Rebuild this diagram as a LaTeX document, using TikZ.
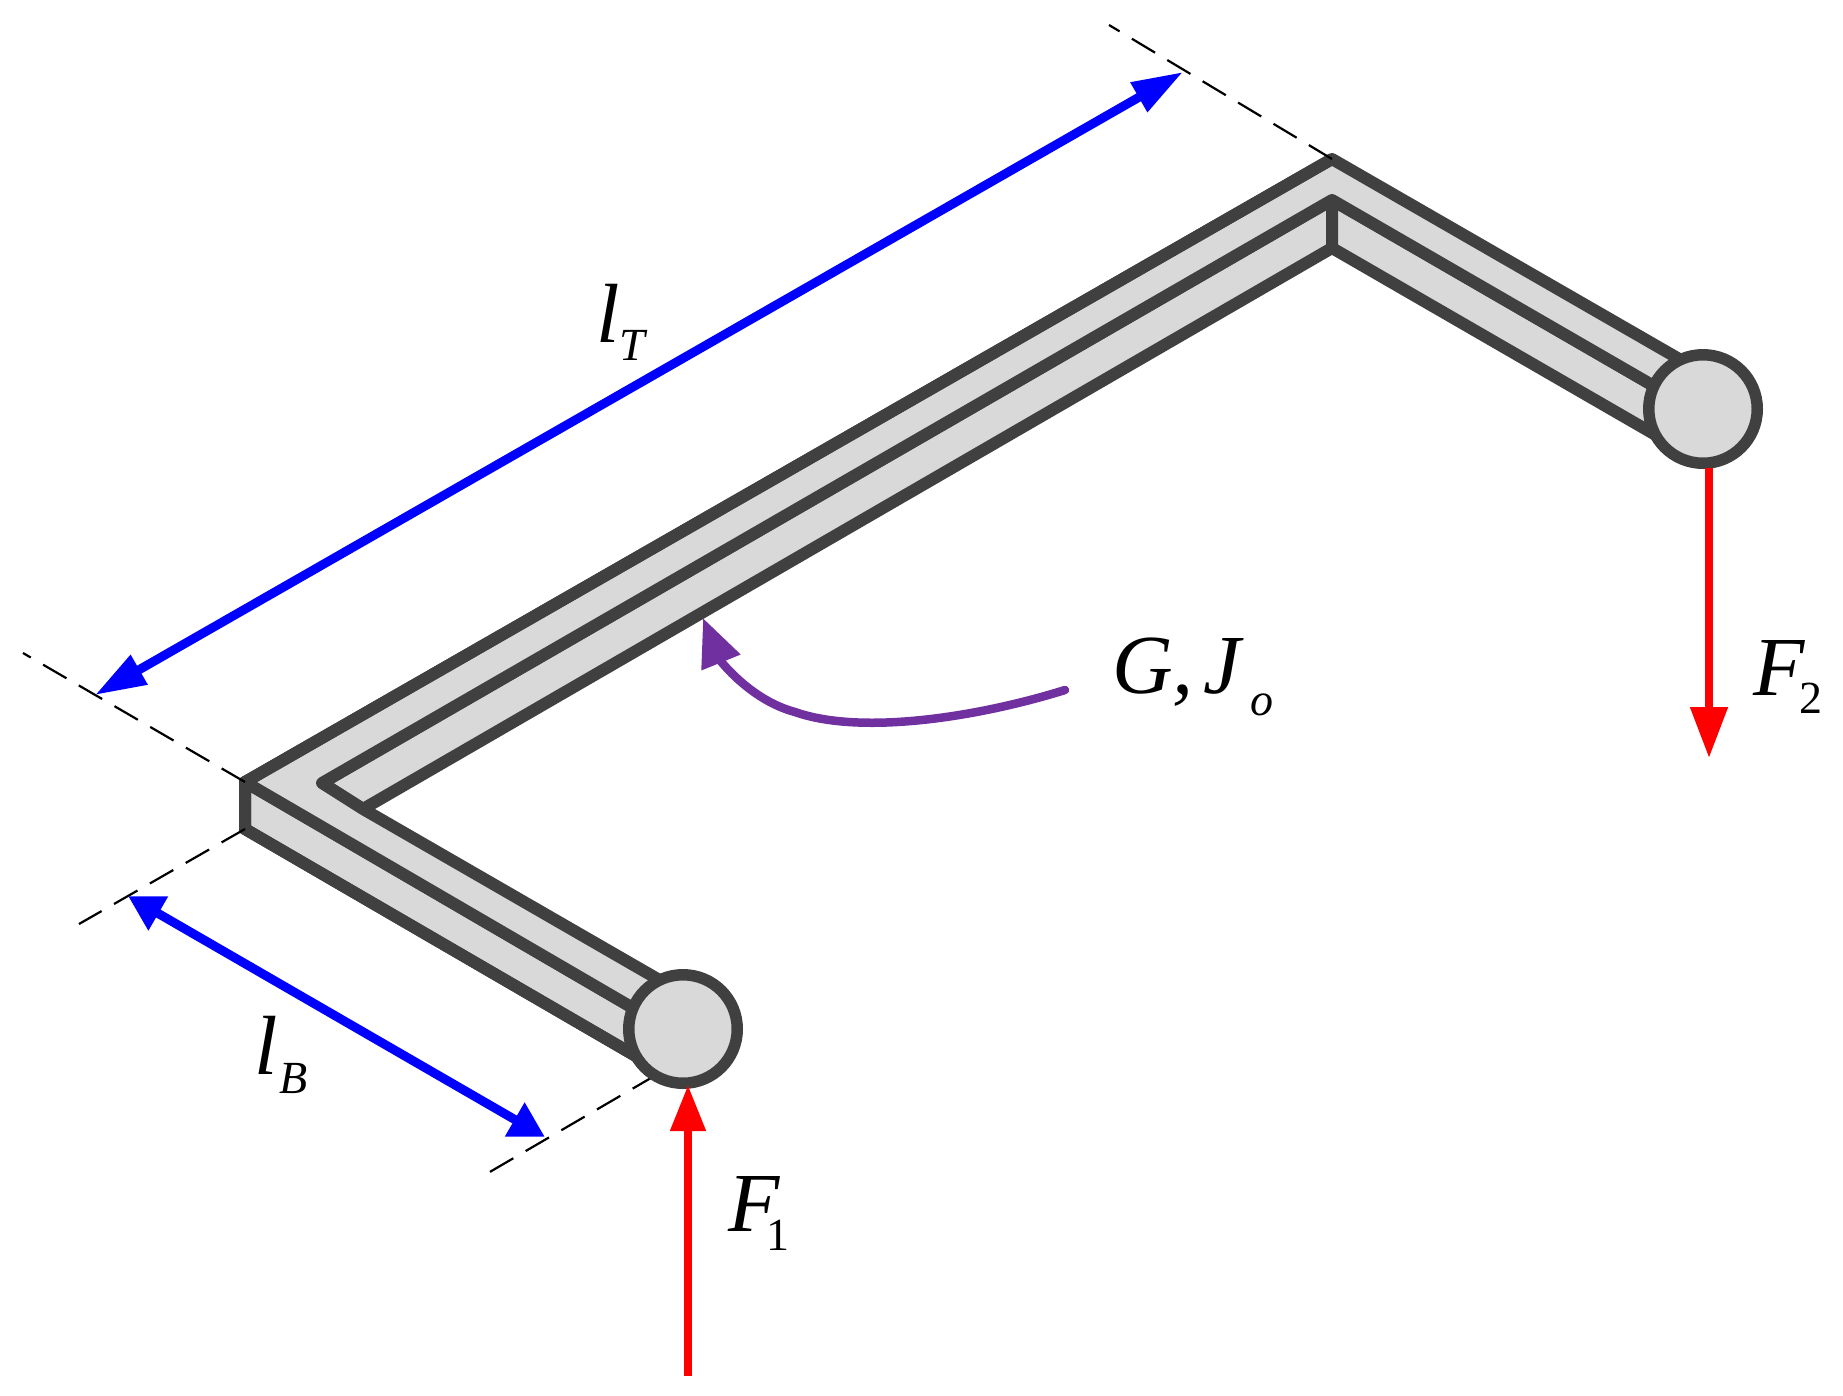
\documentclass[tikz,border=0pt]{standalone}
\usepackage{fontspec}
\setmainfont{Liberation Serif}
\usetikzlibrary{arrows.meta,calc}
\definecolor{barfill}{HTML}{D9D9D9}
\definecolor{barline}{HTML}{404040}
\definecolor{purp}{HTML}{7030A0}
\tikzset{
  face/.style={fill=barfill,draw=barline,line width=12pt,line join=round,line cap=round},
  edgeline/.style={draw=barline,line width=12pt,line join=miter,line cap=butt},
  joint/.style={circle,draw=barline,fill=barfill,line width=11.5pt,minimum size=108.5pt,inner sep=0pt},
  guide/.style={draw=black,line width=2.2pt,dash pattern=on 27pt off 14.3pt},
  dimT/.style={draw=blue,line width=9pt,{Triangle[length=51pt,width=32pt]}-{Triangle[length=51pt,width=32pt]}},
  dimB/.style={draw=blue,line width=9pt,{Triangle[length=35pt,width=37pt]}-{Triangle[length=35pt,width=37pt]}},
  forceup/.style={draw=red,line width=8pt,-{Triangle[length=46pt,width=34pt]}},
  forcedown/.style={draw=red,line width=8pt,-{Triangle[length=51pt,width=36pt]}},
  leader/.style={draw=purp,line width=8.5pt,line cap=round,-{Triangle[length=48pt,width=40pt]}},
  lbl/.style={anchor=base west,inner sep=0pt,font=\fontsize{84}{90}\selectfont\itshape},
  sublbl/.style={anchor=base west,inner sep=0pt,font=\fontsize{46}{50}\selectfont\itshape},
  sublblup/.style={anchor=base west,inner sep=0pt,font=\fontsize{46}{50}\selectfont},
}
\begin{document}
\begin{tikzpicture}[x=1pt,y=-1pt]
\useasboundingbox (0,0) rectangle (1843,1395);
% corners
\coordinate (A) at (245,782);
\coordinate (Al) at (245,829);
\coordinate (B) at (322,783);
\coordinate (C) at (363,809);
\coordinate (D) at (1332,159);
\coordinate (E) at (1332,200);
\coordinate (F) at (1332,248);
\coordinate (a1) at (682,993);
\coordinate (a2) at (657,1022);
\coordinate (a3) at (653,1066);
\coordinate (b1) at (1707,375);
\coordinate (b2) at (1678,400);
\coordinate (b3) at (1673,445);
% faces
\draw[face] (A) -- (Al) -- (a3) -- (a2) -- cycle;
\draw[face] (E) -- (F) -- (C) -- (B) -- cycle;
\draw[face] (E) -- (F) -- (b3) -- (b2) -- cycle;
\draw[face] (A) -- (D) -- (b1) -- (b2) -- (E) -- (B) -- (C) -- (a1) -- (a2) -- cycle;
\draw[edgeline] (D) -- (A) -- (Al) -- (a3);
% guides
\coordinate (g1s) at (1109,25);
\coordinate (g2s) at (23,653);
\coordinate (g3s) at (79,924);
\coordinate (g4s) at (488,1173);
\coordinate (g4e) at (656,1075);
\draw[guide] (D) -- (g1s);
\draw[guide] (A) -- (g2s);
\draw[guide] (Al) -- (g3s);
\draw[guide] (g4e) -- (g4s);
% joints
\node[joint] (j1) at (683,1029) {};
\node[joint] (j2) at (1703,409) {};
% dimension arrows
\coordinate (t1) at (95,695);
\coordinate (t2) at (1183,72);
\coordinate (b4) at (128,896);
\coordinate (b5) at (545,1137);
\draw[dimT] (t1) -- (t2);
\draw[dimB] (b4) -- (b5);
% forces
\coordinate (f1s) at (688,1376);
\coordinate (f1t) at (688,1085);
\coordinate (f2s) at (1709,468);
\coordinate (f2t) at (1709,758);
\draw[forceup] (f1s) -- (f1t);
\draw[forcedown] (f2s) -- (f2t);
% leader
\coordinate (p0) at (1065,690);
\coordinate (p1) at (795,712);
\coordinate (p2) at (703,618);
\draw[leader] (p0) .. controls (975,718) and (860,735) .. (p1) .. controls (750,700) and (720,660) .. (p2);
% labels
\node[lbl] (lT) at (596,342) {l};
\node[sublbl] (lTs) at (619,360) {T};
\node[lbl] (lB) at (254,1074) {l};
\node[sublbl] (lBs) at (279,1093) {B};
\node[lbl] (F1) at (728,1231) {F};
\node[sublblup] (F1s) at (766,1250) {1};
\node[lbl] (F2) at (1753,695) {F};
\node[sublblup] (F2s) at (1799,713) {2};
\node[lbl] (GJ) at (1112,693) {G,\hspace{0.12em}J};
\node[sublbl] (GJs) at (1250,715) {o};
\end{tikzpicture}
\end{document}
